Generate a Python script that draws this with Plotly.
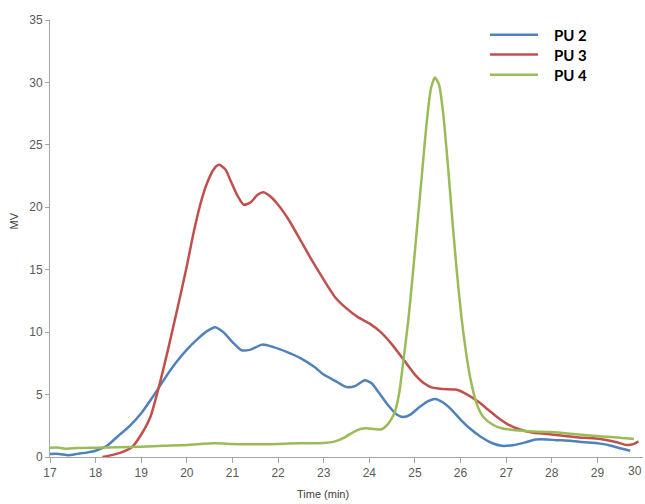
import plotly.graph_objects as go

# Elution time (min) and detector signal (mV) for each sample
pu2_time = [17.0, 17.2, 17.4, 17.6, 17.8, 18.0, 18.25, 18.5, 18.75, 19.0, 19.25, 19.5, 19.75,
            20.0, 20.25, 20.45, 20.62, 20.8, 21.0, 21.2, 21.4, 21.65, 21.9, 22.2, 22.5, 22.8,
            23.0, 23.25, 23.5, 23.7, 23.9, 24.05, 24.2, 24.4, 24.6, 24.75, 24.9, 25.1, 25.3,
            25.45, 25.6, 25.8, 26.0, 26.2, 26.45, 26.7, 26.9, 27.15, 27.4, 27.65, 27.9, 28.1,
            28.4, 28.6, 28.9, 29.1, 29.3, 29.5, 29.72]
pu2_mv = [0.25, 0.25, 0.15, 0.25, 0.35, 0.5, 0.9, 1.7, 2.5, 3.5, 4.8, 6.2, 7.5,
          8.6, 9.5, 10.1, 10.4, 10.0, 9.2, 8.55, 8.6, 9.0, 8.8, 8.4, 7.9, 7.2,
          6.6, 6.1, 5.6, 5.7, 6.15, 5.9, 5.2, 4.2, 3.4, 3.2, 3.4, 4.0, 4.5,
          4.65, 4.4, 3.8, 3.0, 2.3, 1.6, 1.1, 0.9, 0.95, 1.15, 1.4, 1.4, 1.35,
          1.3, 1.22, 1.15, 1.05, 0.9, 0.7, 0.5]

pu3_time = [18.15, 18.35, 18.55, 18.8, 19.0, 19.2, 19.4, 19.6, 19.8, 20.0, 20.15, 20.3, 20.45,
            20.6, 20.71, 20.85, 20.95, 21.1, 21.25, 21.4, 21.55, 21.68, 21.85, 22.0, 22.25,
            22.5, 22.75, 23.0, 23.25, 23.5, 23.75, 24.0, 24.25, 24.5, 24.75, 25.0, 25.2,
            25.35, 25.6, 25.9, 26.1, 26.4, 26.6, 26.8, 27.0, 27.3, 27.6, 27.9, 28.2, 28.6,
            28.9, 29.13, 29.4, 29.65, 29.8, 29.9]
pu3_mv = [0.0, 0.15, 0.35, 0.8, 1.8, 3.2, 5.8, 8.8, 12.0, 15.3, 18.0, 20.3, 22.0,
          23.1, 23.4, 23.0, 22.2, 21.0, 20.2, 20.4, 21.0, 21.2, 20.8, 20.2, 18.9,
          17.3, 15.7, 14.2, 12.8, 11.9, 11.2, 10.7, 10.0, 9.0, 7.8, 6.6, 5.9,
          5.6, 5.45, 5.4, 5.1, 4.4, 3.8, 3.2, 2.7, 2.2, 1.95, 1.85, 1.72, 1.57,
          1.5, 1.4, 1.2, 0.96, 1.05, 1.25]

pu4_time = [17.0, 17.2, 17.37, 17.6, 18.0, 18.5, 19.0, 19.5, 20.0, 20.6, 21.0, 21.5, 22.0,
            22.5, 23.0, 23.25, 23.45, 23.7, 23.9, 24.1, 24.25, 24.4, 24.55, 24.65, 24.75,
            24.85, 24.95, 25.05, 25.15, 25.25, 25.35, 25.44, 25.53, 25.62, 25.72, 25.82,
            25.92, 26.02, 26.12, 26.22, 26.35, 26.5, 26.7, 26.9, 27.2, 27.6, 28.0, 28.6,
            29.1, 29.5, 29.8]
pu4_mv = [0.75, 0.75, 0.66, 0.72, 0.75, 0.78, 0.83, 0.9, 0.96, 1.1, 1.05, 1.02, 1.05,
          1.1, 1.12, 1.25, 1.55, 2.1, 2.3, 2.25, 2.2, 2.6, 3.5, 5.0, 7.8,
          10.8, 14.5, 18.5, 22.5, 26.5, 29.5, 30.4, 29.8, 27.5, 23.5, 19.0,
          14.8, 11.2, 8.4, 6.2, 4.3, 3.2, 2.6, 2.3, 2.15, 2.05, 2.0, 1.8,
          1.65, 1.55, 1.45]

x_ticks = list(range(17, 31))
y_ticks = [0, 5, 10, 15, 20, 25, 30, 35]

series = [
    ("PU 2", pu2_time, pu2_mv, "#4F81BD"),
    ("PU 3", pu3_time, pu3_mv, "#C0504D"),
    ("PU 4", pu4_time, pu4_mv, "#9BBB59"),
]

fig = go.Figure()
for name, t, mv, color in series:
    fig.add_trace(go.Scatter(
        x=t, y=mv, name=name, mode="lines", showlegend=False,
        line=dict(color=color, width=2.5, shape="spline", smoothing=0.6),
    ))

axis_gray = "#A6A6A6"
label_family = "Liberation Sans, Arial, sans-serif"
tick_font = dict(family=label_family, size=12, color="#595959")

# Legend drawn as line swatches plus bold labels in the upper right
legend_rows_y = [0.966, 0.921, 0.875]
shapes = []
annotations = []
for (name, _, _, color), ly in zip(series, legend_rows_y):
    shapes.append(dict(type="line", xref="paper", yref="paper",
                       x0=0.742, x1=0.823, y0=ly, y1=ly,
                       line=dict(color=color, width=2.5)))
    annotations.append(dict(text=name, xref="paper", yref="paper", x=0.846, y=ly,
                            xanchor="left", yanchor="middle", showarrow=False,
                            font=dict(family="Lato, Open Sans, sans-serif", size=15,
                                      color="black", weight="bold")))

annotations += [
    # last x tick label, kept inside the right edge of the page
    dict(text=str(x_ticks[-1]), xref="x", x=x_ticks[-1], yref="paper", y=0, yshift=-5,
         xanchor="right", xshift=1, yanchor="top", showarrow=False, font=tick_font),
    dict(text="Time (min)", xref="paper", yref="paper", x=0.46, y=-0.103,
         xanchor="center", yanchor="bottom", showarrow=False,
         font=dict(family=label_family, size=11, color="#404040")),
    dict(text="MV", xref="paper", yref="paper", x=-0.06, y=0.54,
         xanchor="center", yanchor="middle", showarrow=False, textangle=-90,
         font=dict(family=label_family, size=11, color="#404040")),
]

fig.update_layout(
    width=645, height=504,
    margin=dict(l=50, r=2, t=20, b=47),
    paper_bgcolor="white", plot_bgcolor="white",
    shapes=shapes,
    annotations=annotations,
    xaxis=dict(
        range=[17, 30], tickvals=x_ticks[:-1], ticktext=[str(v) for v in x_ticks[:-1]],
        showgrid=False, zeroline=False, showline=True, linecolor=axis_gray, linewidth=1,
        ticks="outside", ticklen=5, tickcolor=axis_gray, tickfont=tick_font,
    ),
    yaxis=dict(
        range=[0, 35], tickvals=y_ticks,
        showgrid=False, zeroline=False, showline=True, linecolor=axis_gray, linewidth=1,
        ticks="outside", ticklen=4, tickcolor=axis_gray, tickfont=tick_font,
    ),
)

fig.write_html("out.html")
